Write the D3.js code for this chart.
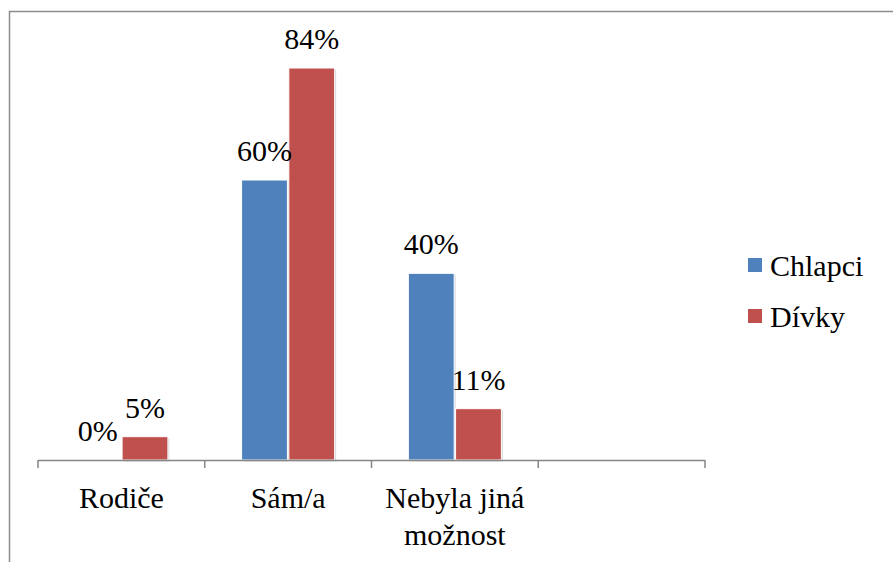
<!DOCTYPE html>
<html>
<head><meta charset="utf-8"><script src="https://cdn.jsdelivr.net/npm/d3@7"></script></head>
<body style="margin:0">
<svg id="chart" width="893" height="562"></svg>
<script>
    // values, in %
    const categories = ["Rodiče", "Sám/a", "Nebyla jiná možnost", ""]
    const categoryLines = [["Rodiče"], ["Sám/a"], ["Nebyla jiná", "možnost"], []]
    const series = ["Chlapci", "Dívky"]
    const chlapci = [0, 60, 40]
    const divky = [5, 84, 11]
    const colors = ["#4F81BD", "#C0504D"]

    const font = "Liberation Serif"
    const fontSize = "30px"
    const svg = d3.select("#chart")
    const baseY = 460

    // outer frame, right and bottom edges run off the picture
    svg.append("rect")
        .attr("x", 9.5).attr("y", 11.5)
        .attr("width", 900).attr("height", 600)
        .attr("fill", "none")
        .attr("stroke", "#8c8c8c")
        .attr("stroke-width", 1.5)

    const x = d3.scaleBand()
        .domain(categories)
        .range([38, 705])

    const x1 = d3.scaleBand()
        .domain(series)
        .range([0, x.bandwidth()])
        .paddingInner(0.03)
        .paddingOuter(0.78)

    const y = d3.scaleLinear()
        .domain([0, 90])
        .range([baseY, 40])

    const rows = []
    categories.slice(0, 3).forEach((c, i) => {
        rows.push({cat: c, s: "Chlapci", v: chlapci[i], color: colors[0]})
        rows.push({cat: c, s: "Dívky", v: divky[i], color: colors[1]})
    })
    const shown = rows.filter(d => d.v > 0)

    // soft shadow behind each bar
    svg.append("g").selectAll("rect")
        .data(shown)
        .enter()
        .append("rect")
        .attr("x", d => x(d.cat) + x1(d.s) + 1.5)
        .attr("y", d => y(d.v) + 1.5)
        .attr("width", x1.bandwidth())
        .attr("height", d => y(0) - y(d.v))
        .attr("fill", "#000")
        .attr("opacity", 0.15)

    svg.append("g").selectAll("rect")
        .data(shown)
        .enter()
        .append("rect")
        .attr("x", d => x(d.cat) + x1(d.s))
        .attr("y", d => y(d.v))
        .attr("width", x1.bandwidth())
        .attr("height", d => y(0) - y(d.v))
        .attr("fill", d => d.color)
        .attr("stroke", "#fff")
        .attr("stroke-width", 1)

    svg.append("g").selectAll("text")
        .data(rows)
        .enter()
        .append("text")
        .attr("x", d => x(d.cat) + x1(d.s) + x1.bandwidth() / 2)
        .attr("y", d => y(d.v) - 19)
        .attr("text-anchor", "middle")
        .attr("font-family", font)
        .style("font-size", fontSize)
        .text(d => d.v + "%")

    // axis line and ticks at the category borders
    const axis = svg.append("g")
    axis.append("line")
        .attr("x1", x.range()[0]).attr("x2", x.range()[1])
        .attr("y1", baseY + 0.5).attr("y2", baseY + 0.5)
        .attr("stroke", "#868686").attr("stroke-width", 1.5)
    const tickPos = categories.map(c => x(c)).concat([x.range()[1]])
    axis.selectAll(".tick")
        .data(tickPos)
        .enter()
        .append("line")
        .attr("x1", d => d).attr("x2", d => d)
        .attr("y1", baseY).attr("y2", baseY + 8)
        .attr("stroke", "#868686").attr("stroke-width", 1.5)

    categories.forEach((c, i) => {
        categoryLines[i].forEach((line, j) => {
            axis.append("text")
                .attr("x", x(c) + x.bandwidth() / 2)
                .attr("y", 508 + j * 37)
                .attr("text-anchor", "middle")
                .attr("font-family", font)
                .style("font-size", fontSize)
                .text(line)
        })
    })

    // legend
    const legend = svg.append("g")
    series.forEach((s, i) => {
        legend.append("rect")
            .attr("x", 748).attr("y", 258 + i * 51)
            .attr("width", 14).attr("height", 14)
            .attr("fill", colors[i])
        legend.append("text")
            .attr("x", 770).attr("y", 276 + i * 51)
            .attr("font-family", font)
            .style("font-size", fontSize)
            .text(s)
    })
</script>
</body>
</html>
